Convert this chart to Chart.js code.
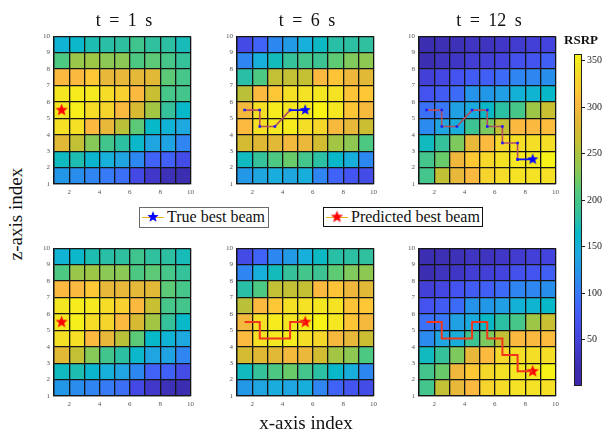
<!DOCTYPE html>
<html>
<head>
<meta charset="utf-8">
<script src="https://cdn.jsdelivr.net/npm/chart.js@4.4.1/dist/chart.umd.min.js"></script>
<style>
  body { margin: 0; background: #fff; }
  #fig { position: relative; width: 613px; height: 435px; overflow: hidden;
         font-family: 'Liberation Serif', 'DejaVu Serif', serif; color: #111; }
  #fig > canvas { position: absolute; }
  .txt { position: absolute; white-space: pre; text-align: center; }
  .leg { position: absolute; background: #fff; box-sizing: border-box; font-size: 16px;
         line-height: 18px; white-space: pre; }
  .leg canvas { vertical-align: top; margin: 0 3px 0 2px; }
</style>
</head>
<body>
<div id="fig"></div>
<script>
const PANEL_TITLES = ['t = 1 s', 't = 6 s', 't = 12 s'];
const X_TICKS = [1, 2, 3, 4, 5, 6, 7, 8, 9, 10];
const Z_TICKS = [1, 2, 3, 4, 5, 6, 7, 8, 9, 10];
const CBAR_MIN = 0;
const CBAR_MAX = 357;
const CBAR_TICKS = [50, 100, 150, 200, 250, 300, 350];

// RSRP per beam, rows from z = 9.5 (top) down to z = 1.5, columns x = 1.5 .. 9.5
const RSRP_T1 = [
  [155, 160, 175, 180, 183, 195, 185, 182, 172],
  [205, 240, 242, 232, 232, 205, 212, 200, 188],
  [305, 305, 315, 290, 290, 287, 285, 212, 200],
  [345, 350, 348, 337, 325, 305, 265, 200, 198],
  [345, 353, 337, 330, 305, 278, 245, 188, 162],
  [340, 340, 305, 290, 258, 212, 162, 155, 140],
  [285, 262, 230, 197, 182, 160, 138, 135, 110],
  [168, 175, 158, 150, 136, 112, 85, 83, 62],
  [125, 117, 110, 102, 94, 58, 38, 25, 20]
];
const RSRP_T6 = [
  [60, 85, 112, 128, 149, 165, 180, 182, 184],
  [110, 150, 170, 188, 198, 193, 213, 227, 233],
  [180, 205, 262, 262, 263, 305, 313, 295, 285],
  [258, 305, 315, 340, 342, 345, 343, 313, 315],
  [298, 340, 350, 345, 350, 356, 346, 314, 300],
  [306, 340, 346, 350, 338, 331, 300, 290, 267],
  [275, 283, 285, 298, 292, 272, 245, 234, 205],
  [168, 188, 205, 218, 198, 181, 161, 148, 112],
  [126, 138, 145, 138, 147, 110, 86, 71, 62]
];
const RSRP_T12 = [
  [20, 23, 25, 32, 31, 37, 42, 48, 52],
  [20, 30, 35, 45, 48, 52, 68, 71, 82],
  [48, 55, 70, 78, 82, 91, 110, 111, 118],
  [70, 78, 92, 122, 125, 132, 152, 156, 162],
  [95, 100, 133, 143, 163, 181, 200, 242, 265],
  [115, 138, 148, 193, 225, 262, 305, 305, 307],
  [168, 188, 226, 290, 306, 333, 338, 339, 339],
  [198, 218, 295, 316, 333, 341, 346, 348, 355],
  [198, 262, 290, 305, 328, 336, 342, 342, 340]
];

// beam tracks (x index, z index)
const TRUE_X_T1 = [1.5];
const TRUE_Z_T1 = [5.5];
const TRUE_X_T6 = [1.5, 2.5, 2.5, 3.5, 4.5, 5.5];
const TRUE_Z_T6 = [5.5, 5.5, 4.5, 4.5, 5.5, 5.5];
const TRUE_X_T12 = [1.5, 2.5, 2.5, 3.5, 4.5, 5.5, 5.5, 6.5, 6.5, 7.5, 7.5, 8.5];
const TRUE_Z_T12 = [5.5, 5.5, 4.5, 4.5, 5.5, 5.5, 4.5, 4.5, 3.5, 3.5, 2.5, 2.5];
const PRED_X_T1 = [1.5];
const PRED_Z_T1 = [5.5];
const PRED_X_T6 = [1.5, 2.5, 3.5, 4.5, 5.5];
const PRED_Z_T6 = [5.5, 4.5, 4.5, 5.5, 5.5];
const PRED_X_T12 = [1.5, 2.5, 3.5, 4.5, 5.5, 6.5, 7.5, 8.5];
const PRED_Z_T12 = [5.5, 4.5, 4.5, 5.5, 4.5, 3.5, 2.5, 2.5];

// parula-like colour map
const CMAP_AT = [0, 20, 40, 55, 70, 85, 100, 112, 125, 138, 150, 162, 172, 182, 195, 205, 215,
  230, 242, 255, 265, 280, 290, 305, 315, 330, 340, 348, 357];
const CMAP_HEX = ['#3e26a8', '#3c2eb0', '#4139cc', '#4446e2', '#4453ef', '#4062f7', '#3878f6',
  '#2d87f0', '#2397e7', '#1fa6e1', '#16b0da', '#07b8c8', '#17bcb8', '#2dbfa2', '#3fc48e',
  '#4cc883', '#62ca6f', '#87c957', '#9dc647', '#b4c23c', '#c8bf32', '#dbb932', '#e8b83a',
  '#fcb940', '#fec735', '#f5d52c', '#f5e025', '#f5e920', '#f8f414'];

const FONT = "'Liberation Serif', 'DejaVu Serif', serif";
const fig = document.getElementById('fig');

const hexRgb = h => [1, 3, 5].map(i => parseInt(h.substr(i, 2), 16));
function rsrpColor(v) {
  if (v <= CMAP_AT[0]) return CMAP_HEX[0];
  for (let i = 1; i < CMAP_AT.length; i++) {
    if (v <= CMAP_AT[i]) {
      const t = (v - CMAP_AT[i - 1]) / (CMAP_AT[i] - CMAP_AT[i - 1]);
      const a = hexRgb(CMAP_HEX[i - 1]), b = hexRgb(CMAP_HEX[i]);
      return 'rgb(' + a.map((c, k) => Math.round(c + (b[k] - c) * t)).join(',') + ')';
    }
  }
  return CMAP_HEX[CMAP_HEX.length - 1];
}

function starCanvas(color, outer) {
  const size = Math.ceil(outer * 2) + 2;
  const c = document.createElement('canvas');
  c.width = size; c.height = size;
  const g = c.getContext('2d');
  g.beginPath();
  for (let i = 0; i < 10; i++) {
    const r = i % 2 ? outer * 0.42 : outer;
    const a = -Math.PI / 2 + i * Math.PI / 5;
    g.lineTo(size / 2 + r * Math.cos(a), size / 2 + r * Math.sin(a));
  }
  g.closePath();
  g.fillStyle = color;
  g.fill();
  return c;
}
const BLUE_STAR = starCanvas('#0000ff', 6);
const RED_STAR = starCanvas('#ff0000', 6.5);
const SMALL_BLUE_STAR = starCanvas('#1010ff', 2.6);

// fills the beam cells under the grid lines
const heatmapPlugin = {
  id: 'heatmap',
  beforeDraw(chart, args, options) {
    const {ctx, scales: {x, y}} = chart;
    options.values.forEach((row, r) => {
      row.forEach((v, c) => {
        const x0 = x.getPixelForValue(c + 1), x1 = x.getPixelForValue(c + 2);
        const y0 = y.getPixelForValue(10 - r), y1 = y.getPixelForValue(9 - r);
        ctx.fillStyle = rsrpColor(v);
        ctx.fillRect(x0, y0, x1 - x0, y1 - y0);
      });
    });
  }
};

const PW = 140, PH = 152, AXY = 20, AXX = 16, PAD = 4;
const PANEL_LEFT = [54, 237, 419];
const ROW_TOP = [32, 244];

function axis(ticks, fit, labelFn) {
  return {
    type: 'linear', min: 1, max: 10,
    afterBuildTicks: s => { s.ticks = ticks.map(v => ({value: v})); },
    afterFit: fit,
    grid: {color: '#151515', lineWidth: 1.3, drawTicks: false},
    border: {color: '#151515', width: 1.3},
    ticks: {callback: labelFn, font: {family: FONT, size: 7}, color: '#555', padding: 4,
      autoSkip: false, maxRotation: 0}
  };
}

function makePanel(left, top, values, datasets) {
  const cv = document.createElement('canvas');
  cv.width = PW + AXY + PAD;
  cv.height = PH + PAD + AXX;
  cv.style.left = (left - AXY) + 'px';
  cv.style.top = (top - PAD) + 'px';
  fig.appendChild(cv);
  new Chart(cv, {
    type: 'scatter',
    data: {datasets},
    options: {
      responsive: false, animation: false, events: [],
      layout: {padding: {top: PAD, right: PAD, left: 0, bottom: 0}},
      plugins: {legend: {display: false}, tooltip: {enabled: false}, heatmap: {values}},
      scales: {
        x: axis(X_TICKS, s => { s.height = AXX; }, v => (v % 2 === 0 ? v : '')),
        y: axis(Z_TICKS, s => { s.width = AXY; }, v => v)
      }
    },
    plugins: [heatmapPlugin]
  });
}

const toPts = (xs, zs) => xs.map((x, i) => ({x, y: zs[i]}));

function trueSets(xs, zs) {
  const pts = toPts(xs, zs);
  if (pts.length === 1) {
    return [
      {data: pts, pointStyle: RED_STAR, pointRadius: 6},
      {data: pts, pointStyle: SMALL_BLUE_STAR, pointRadius: 3}
    ];
  }
  return [
    {data: pts.slice(0, -1), showLine: true, borderColor: '#b24f5e', borderWidth: 1.6,
      pointStyle: 'rect', pointRadius: 1.8, pointBackgroundColor: '#1a1aff', pointBorderWidth: 0},
    {data: pts.slice(-2), showLine: true, borderColor: '#0a0aff', borderWidth: 1.8,
      pointStyle: ['rect', BLUE_STAR], pointRadius: [1.8, 6], pointBackgroundColor: '#1a1aff',
      pointBorderWidth: 0}
  ];
}

function predSets(xs, zs) {
  const pts = toPts(xs, zs);
  return [
    {data: pts, showLine: true, stepped: true, borderColor: '#f2361c', borderWidth: 2, pointRadius: 0},
    {data: pts.slice(-1), pointStyle: RED_STAR, pointRadius: 6}
  ];
}

const RSRP = [RSRP_T1, RSRP_T6, RSRP_T12];
const TRUE_TRACKS = [[TRUE_X_T1, TRUE_Z_T1], [TRUE_X_T6, TRUE_Z_T6], [TRUE_X_T12, TRUE_Z_T12]];
const PRED_TRACKS = [[PRED_X_T1, PRED_Z_T1], [PRED_X_T6, PRED_Z_T6], [PRED_X_T12, PRED_Z_T12]];

for (let i = 0; i < 3; i++) {
  makePanel(PANEL_LEFT[i], ROW_TOP[0], RSRP[i], trueSets(...TRUE_TRACKS[i]));
  makePanel(PANEL_LEFT[i], ROW_TOP[1], RSRP[i], predSets(...PRED_TRACKS[i]));
  const t = document.createElement('div');
  t.className = 'txt';
  t.textContent = PANEL_TITLES[i];
  t.style.cssText = `left:${PANEL_LEFT[i] - 30}px;width:${PW + 60}px;top:9px;font-size:18px;line-height:22px;word-spacing:4px`;
  fig.appendChild(t);
}

// colour bar
const colorbarPlugin = {
  id: 'colorbar',
  beforeDraw(chart) {
    const {ctx, chartArea: a, scales: {y}} = chart;
    const grad = ctx.createLinearGradient(0, y.getPixelForValue(CBAR_MIN), 0, y.getPixelForValue(CBAR_MAX));
    CMAP_AT.forEach((v, i) => grad.addColorStop((v - CBAR_MIN) / (CBAR_MAX - CBAR_MIN), CMAP_HEX[i]));
    ctx.fillStyle = grad;
    ctx.fillRect(a.left, a.top, a.right - a.left, a.bottom - a.top);
  },
  afterDraw(chart) {
    const {ctx, chartArea: a} = chart;
    ctx.strokeStyle = '#222';
    ctx.lineWidth = 1;
    ctx.strokeRect(a.left + 0.5, a.top + 0.5, a.right - a.left - 1, a.bottom - a.top - 1);
  }
};
const cb = document.createElement('canvas');
cb.width = 8 + 34;
cb.height = 336 + 12;
cb.style.left = '574px';
cb.style.top = '46px';
fig.appendChild(cb);
new Chart(cb, {
  type: 'scatter',
  data: {datasets: []},
  options: {
    responsive: false, animation: false, events: [],
    layout: {padding: {top: 6, bottom: 6, left: 0, right: 0}},
    plugins: {legend: {display: false}, tooltip: {enabled: false}},
    scales: {
      x: {display: false, min: 0, max: 1},
      y: {
        position: 'right', min: CBAR_MIN, max: CBAR_MAX,
        afterBuildTicks: s => { s.ticks = CBAR_TICKS.map(v => ({value: v})); },
        afterFit: s => { s.width = 34; },
        grid: {drawOnChartArea: false, tickLength: 3, color: '#222', lineWidth: 1},
        border: {display: false},
        ticks: {font: {family: FONT, size: 10}, color: '#222', padding: 2}
      }
    }
  },
  plugins: [colorbarPlugin]
});

function addText(txt, css) {
  const d = document.createElement('div');
  d.className = 'txt';
  d.textContent = txt;
  d.style.cssText = css;
  fig.appendChild(d);
}
addText('RSRP', 'left:556px;width:50px;top:32px;font-size:13px;font-weight:bold;line-height:16px');
addText('x-axis index', 'left:206px;width:200px;top:411px;font-size:19px;line-height:24px');
addText('z-axis index', 'left:-84px;width:200px;top:202px;font-size:19px;line-height:24px;transform:rotate(-90deg)');

// legends
function legendIcon(star) {
  const c = document.createElement('canvas');
  c.width = 22; c.height = 18;
  const g = c.getContext('2d');
  g.strokeStyle = '#edb120';
  g.lineWidth = 1;
  g.beginPath(); g.moveTo(0, 9.5); g.lineTo(22, 9.5); g.stroke();
  g.drawImage(star, 11 - star.width / 2, 9 - star.height / 2);
  return c;
}
function addLegend(label, star, css) {
  const d = document.createElement('div');
  d.className = 'leg';
  d.style.cssText = css;
  d.appendChild(legendIcon(star));
  d.appendChild(document.createTextNode(label));
  fig.appendChild(d);
}
addLegend('True best beam', BLUE_STAR, 'left:139px;top:207px;width:130px;height:21px;border:1.5px solid #6a6a6a');
addLegend('Predicted best beam', RED_STAR, 'left:323px;top:207px;width:160px;height:20px;border:1px solid #111');
</script>
</body>
</html>
